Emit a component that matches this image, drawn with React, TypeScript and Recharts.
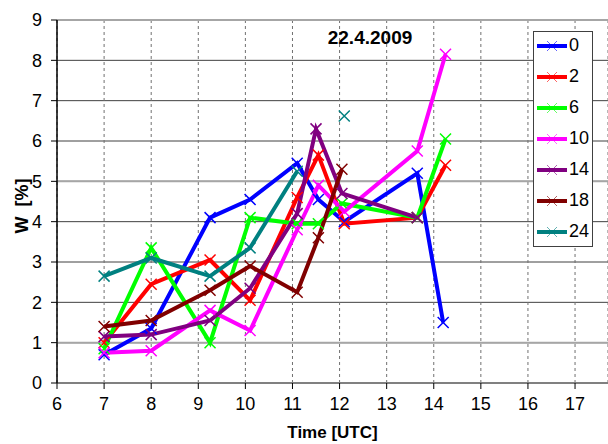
import React from 'react'
import { LineChart, Line, XAxis, YAxis, CartesianGrid, ReferenceLine } from 'recharts'

// measurement times (UTC hours) and water content per depth
const t0 = [7, 8, 9.25, 10.1, 11.1, 11.55, 12.1, 13.65, 14.2]
const w0 = [0.7, 1.35, 4.1, 4.55, 5.45, 4.55, 4.0, 5.2, 1.5]

const t2 = [7, 8, 9.25, 10.1, 11.1, 11.55, 12.1, 13.65, 14.25]
const w2 = [1.0, 2.45, 3.05, 2.05, 4.6, 5.65, 3.95, 4.1, 5.4]

const t6 = [7, 8, 9.25, 10.1, 11.1, 11.55, 12.05, 13.65, 14.25]
const w6 = [0.85, 3.35, 1.0, 4.1, 3.95, 3.95, 4.45, 4.1, 6.05]

const t10 = [7, 8, 9.25, 10.1, 11.1, 11.55, 12.1, 13.65, 14.25]
const w10 = [0.75, 0.8, 1.8, 1.3, 3.8, 4.9, 4.25, 5.75, 8.15]

const t14 = [7, 8, 9.25, 10.1, 11.1, 11.5, 12.05, 13.65]
const w14 = [1.15, 1.2, 1.55, 2.35, 4.2, 6.3, 4.7, 4.1]

const t18 = [7, 8, 9.25, 10.1, 11.1, 11.55, 12.05]
const w18 = [1.4, 1.55, 2.3, 2.9, 2.25, 3.6, 5.3]

const t24 = [7, 8, 9.25, 10.1, 11.1, 11.6, 12.1]
const w24 = [2.65, 3.1, 2.65, 3.35, 5.25, null, 6.62]

const xTicks = [6, 7, 8, 9, 10, 11, 12, 13, 14, 15, 16, 17]
const yTicks = [0, 1, 2, 3, 4, 5, 6, 7, 8, 9]

const series = [
  { name: '0', color: '#0000ff', t: t0, w: w0 },
  { name: '2', color: '#ff0000', t: t2, w: w2 },
  { name: '6', color: '#00ff00', t: t6, w: w6 },
  { name: '10', color: '#ff00ff', t: t10, w: w10 },
  { name: '14', color: '#800080', t: t14, w: w14 },
  { name: '18', color: '#800000', t: t18, w: w18 },
  { name: '24', color: '#008080', t: t24, w: w24 },
]

const FONT = '"Liberation Sans", Arial, sans-serif'

function crossDot(color: string) {
  return (props: any) => {
    const { cx, cy, value, index } = props
    const k = `d-${index}`
    if (cx == null || cy == null || value == null || Number.isNaN(cy)) return <g key={k} />
    const r = 5.5
    return (
      <path
        key={k}
        d={`M${cx - r},${cy - r}L${cx + r},${cy + r}M${cx - r},${cy + r}L${cx + r},${cy - r}`}
        stroke={color}
        strokeWidth={1.5}
        fill="none"
      />
    )
  }
}

function LegendBox() {
  return (
    <div style={s.legend}>
      {series.map(d => (
        <div key={d.name} style={s.legendItem}>
          <svg width={32} height={14}>
            <line x1={1} y1={7} x2={31} y2={7} stroke={d.color} strokeWidth={4} />
            <path d="M11,2L21,12M11,12L21,2" stroke={d.color} strokeWidth={1} opacity={0.6} />
          </svg>
          <span style={s.legendName}>{d.name}</span>
        </div>
      ))}
    </div>
  )
}

export default function App() {
  return (
    <div style={{ position: 'absolute', left: 0, top: 0, width: 608, height: 444, background: '#fff', overflow: 'hidden' }}>
      <LineChart width={608} height={444} margin={{ top: 20, right: 0, left: 0, bottom: 0 }} style={{ fontFamily: FONT }}>
        <CartesianGrid horizontal vertical={false} stroke="#404040" strokeWidth={1} />
        <CartesianGrid horizontal={false} vertical stroke="#707070" strokeDasharray="3 3" />
        <ReferenceLine y={1} stroke="#a6a6a6" strokeWidth={2} />
        <ReferenceLine y={5} stroke="#a6a6a6" strokeWidth={2} />
        <ReferenceLine y={9} stroke="#a6a6a6" strokeWidth={2} />
        <XAxis
          type="number"
          dataKey="t"
          domain={[6, 17.7]}
          ticks={xTicks}
          interval={0}
          allowDataOverflow
          height={61}
          tickSize={6}
          tickMargin={8}
          axisLine={{ stroke: '#808080', strokeWidth: 2 }}
          tickLine={{ stroke: '#000' }}
          tick={{ fill: '#000', fontSize: 18, fontFamily: FONT }}
          label={{ value: 'Time [UTC]', position: 'insideBottom', offset: 6, fill: '#000', fontSize: 17, fontWeight: 'bold', fontFamily: FONT }}
        />
        <YAxis
          type="number"
          domain={[0, 9]}
          ticks={yTicks}
          interval={0}
          width={57}
          tickSize={6}
          tickMargin={9}
          axisLine={{ stroke: '#000', strokeWidth: 1.5 }}
          tickLine={{ stroke: '#000' }}
          tick={{ fill: '#000', fontSize: 18, fontFamily: FONT }}
        />
        {series.map(d => (
          <Line
            key={d.name}
            name={d.name}
            data={d.t.map((t, i) => ({ t, w: d.w[i] }))}
            dataKey="w"
            type="linear"
            stroke={d.color}
            strokeWidth={4}
            dot={crossDot(d.color)}
            activeDot={false}
            connectNulls={false}
            isAnimationActive={false}
          />
        ))}
        <text x={370} y={44} textAnchor="middle" fontFamily={FONT} fontSize={19} fontWeight="bold" fill="#000">
          22.4.2009
        </text>
        <text x={28} y={206} transform="rotate(-90 28 206)" textAnchor="middle" fontFamily={FONT} fontSize={18} fontWeight="bold" fill="#000" xmlSpace="preserve">
          {'W  [%]'}
        </text>
      </LineChart>
      <div style={{ position: 'absolute', left: 533, top: 31 }}>
        <LegendBox />
      </div>
    </div>
  )
}

const s: Record<string, React.CSSProperties> = {
  legend: {
    boxSizing: 'border-box',
    width: 60,
    height: 216,
    border: '1px solid #404040',
    background: '#fff',
    padding: '4px 0 0 2px',
    display: 'flex',
    flexDirection: 'column',
    gap: 12,
  },
  legendItem: { display: 'flex', alignItems: 'center', height: 19 },
  legendName: { fontFamily: FONT, fontSize: 18, color: '#000', marginLeft: 1, lineHeight: '19px' },
}
